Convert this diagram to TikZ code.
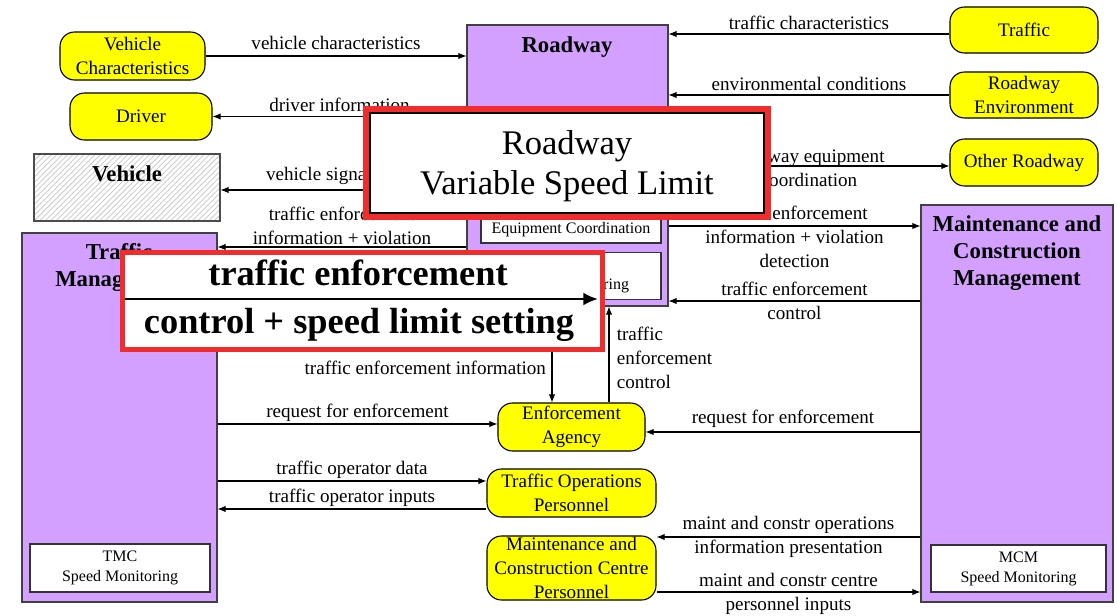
\documentclass[tikz,border=0pt]{standalone}
\usepackage{fontspec}
\setmainfont{Liberation Serif}
\usetikzlibrary{fit,calc,positioning,patterns,arrows.meta}
\definecolor{termyellow}{RGB}{255,255,0}
\definecolor{syspurple}{RGB}{211,160,255}
\definecolor{calred}{RGB}{240,44,44}
\tikzset{
    >={Latex[length=4.5pt,width=3.6pt]}, % small filled arrow heads
    box size/.style 2 args={minimum width=#1*0.55pt, minimum height=#2*0.55pt}, % sizes in pixels
    flow/.style={->, line width=0.6pt}, % flows between the boxes
    flowlabel/.style={font=\fontsize{10.5}{13.2}\selectfont, align=center, inner sep=1pt},
    term/.style={draw, line width=0.6pt, fill=termyellow, rounded corners=8pt, inner sep=0pt,
                 align=center, font=\fontsize{10.5}{13.2}\selectfont}, % yellow terminators
    sysbox/.style={draw=black!75, line width=0.6pt, fill=syspurple, inner sep=0pt},
    subbox/.style={draw=black!80, line width=0.6pt, fill=white, inner sep=0pt,
                   align=center, font=\fontsize{8.8}{11}\selectfont}, % equipment packages
    systitle/.style={font=\bfseries\fontsize{12.5}{14.9}\selectfont, align=center, inner sep=0pt},
    vehbox/.style={draw=black!70, line width=0.6pt, pattern=north east lines, pattern color=black!22, inner sep=0pt},
    calloutbox/.style={draw=calred, line width=2.8pt, fill=white, inner sep=0pt, outer sep=0pt},
    calloutin/.style={draw=black, line width=0.6pt, inner sep=0pt, align=center,
                      font=\fontsize{19}{22}\selectfont},
    callbold/.style={font=\bfseries\fontsize{20}{24}\selectfont, inner sep=0pt},
    bigflow/.style={-{Latex[length=8pt,width=7pt]}, line width=1.2pt},
}

\begin{document}
\begin{tikzpicture}[x=0.55pt, y=-0.55pt]
  \useasboundingbox (0,0) rectangle (1117,615);

  % left side
  \node[term, box size={145}{48}] (vchar)  at (132.5,56)  {Vehicle\\Characteristics};
  \node[term, box size={142}{47}] (driver) at (141,116.5) {Driver};
  \node[vehbox, fit={(34,154) (220,221)}] (vehicle) {};
  \node[systitle] (vehicle_t) at (127,174) {Vehicle};

  \node[sysbox, fit={(22,233) (217,602)}] (tm) {};
  \node[systitle] (tm_t) at (119,267.5) {Traffic\\Management};
  \node[subbox, box size={180}{48}] (tm_s) at (120,568) {TMC\\Speed Monitoring};

  % roadway in the middle
  \node[sysbox, fit={(467,25) (668,306)}] (roadway) {};
  \node[systitle] (roadway_t) at (567,47) {Roadway};
  \node[subbox, box size={180}{46}] (roadway_s1) at (571,220)   {Roadway\\Equipment Coordination};
  \node[subbox, box size={180}{47}] (roadway_s2) at (571,276) {Roadway\\Speed Monitoring};

  \node[term, box size={147}{48}] (ea)   at (571.5,427) {Enforcement\\Agency};
  \node[term, box size={169}{48}] (top)  at (571.5,493) {Traffic Operations\\Personnel};
  \node[term, box size={169}{64}] (mccp) at (571.5,568) {Maintenance and\\Construction Centre\\Personnel};

  % right side
  \node[term, box size={148}{46}] (traffic) at (1024,30)    {Traffic};
  \node[term, box size={148}{46}] (renv)    at (1024,95)    {Roadway\\Environment};
  \node[term, box size={148}{47}] (oroad)   at (1024,162.5) {Other Roadway};

  \node[sysbox, fit={(921,205) (1113,602)}] (mcm) {};
  \node[systitle] (mcm_t) at (1017,253) {Maintenance and\\Construction\\Management};
  \node[subbox, box size={175}{47}] (mcm_s) at (1018.5,568.5) {MCM\\Speed Monitoring};

  % levels of the flows
  \coordinate (lv_trf)  at (0,34);
  \coordinate (lv_orw)  at (0,166);
  \coordinate (lv_veh)  at (0,190);
  \coordinate (lv_teir) at (0,226);
  \coordinate (lv_teil) at (0,247);
  \coordinate (lv_big)  at (0,299);
  \coordinate (lv_tec)  at (0,301);
  \coordinate (lv_rfe1) at (0,424);
  \coordinate (lv_rfe2) at (0,432);
  \coordinate (lv_tod)  at (0,481);
  \coordinate (lv_toi)  at (0,509);
  \coordinate (lv_mco)  at (0,537);
  \coordinate (lv_mci)  at (0,592);
  \coordinate (lv_tein) at (552,0);
  \coordinate (lv_tecu) at (609,0);

  \path[flow]
    (vchar) edge node[flowlabel, above=2pt] {vehicle characteristics} (vchar -| roadway.west)
    (driver -| roadway.west) edge node[flowlabel, above=1.5pt] {driver information} (driver)
    (roadway.west |- lv_veh) edge node[flowlabel, above=1.5pt] {vehicle signage data} (vehicle.east |- lv_veh)
    (roadway.west |- lv_teil) edge node[flowlabel, yshift=11.5pt] {traffic enforcement\\information + violation} (tm.east |- lv_teil)
    (traffic.west |- lv_trf) edge node[flowlabel, above=1pt] {traffic characteristics} (roadway.east |- lv_trf)
    (renv) edge node[flowlabel, above=1pt] {environmental conditions} (renv -| roadway.east)
    (roadway.east |- lv_orw) edge node[flowlabel, yshift=-1pt] {roadway equipment\\coordination} (oroad.west |- lv_orw)
    (roadway.east |- lv_teir) edge node[flowlabel, yshift=-6pt] {traffic enforcement\\information + violation\\detection} (mcm.west |- lv_teir)
    (mcm.west |- lv_tec) edge node[flowlabel] {traffic enforcement\\control} (roadway.east |- lv_tec)
    (roadway.south -| lv_tein) edge node[flowlabel, left=2pt, pos=0.64] {traffic enforcement information} (ea.north -| lv_tein)
    (ea.north -| lv_tecu) edge node[flowlabel, right=3pt, align=left, pos=0.46] {traffic\\enforcement\\control} (roadway.south -| lv_tecu)
    (tm.east |- lv_rfe1) edge node[flowlabel, above=0pt] {request for enforcement} (ea.west |- lv_rfe1)
    (mcm.west |- lv_rfe2) edge node[flowlabel, above=1pt] {request for enforcement} (ea.east |- lv_rfe2)
    (tm.east |- lv_tod) edge node[flowlabel, above=0pt] {traffic operator data} (top.west |- lv_tod)
    (top.west |- lv_toi) edge node[flowlabel, above=0pt] {traffic operator inputs} (tm.east |- lv_toi)
    (mcm.west |- lv_mco) edge node[flowlabel] {maint and constr operations\\information presentation} (mccp.east |- lv_mco)
    (mccp.east |- lv_mci) edge node[flowlabel, yshift=-1pt] {maint and constr centre\\personnel inputs} (mcm.west |- lv_mci);

  % magnified callouts on top
  \node[calloutbox, fit={(366,109) (768,217)}] (zoom_vsl) {};
  \node[calloutin, box size={394}{100}, text depth=-9pt] (zoom_vsl_in) at (567,163) {Roadway\\Variable Speed Limit};

  \node[calloutbox, fit={(122.5,252.5) (602.5,349.5)}] (zoom_tec) {};
  \node[callbold] (zoom_tec_a) at (358,273) {traffic enforcement};
  \node[callbold] (zoom_tec_b) at (359,325) {control + speed limit setting};
  \draw[bigflow, shorten <=1.4pt, shorten >=2.5pt] (zoom_tec.west |- lv_big) -- (zoom_tec.east |- lv_big);
\end{tikzpicture}
\end{document}
